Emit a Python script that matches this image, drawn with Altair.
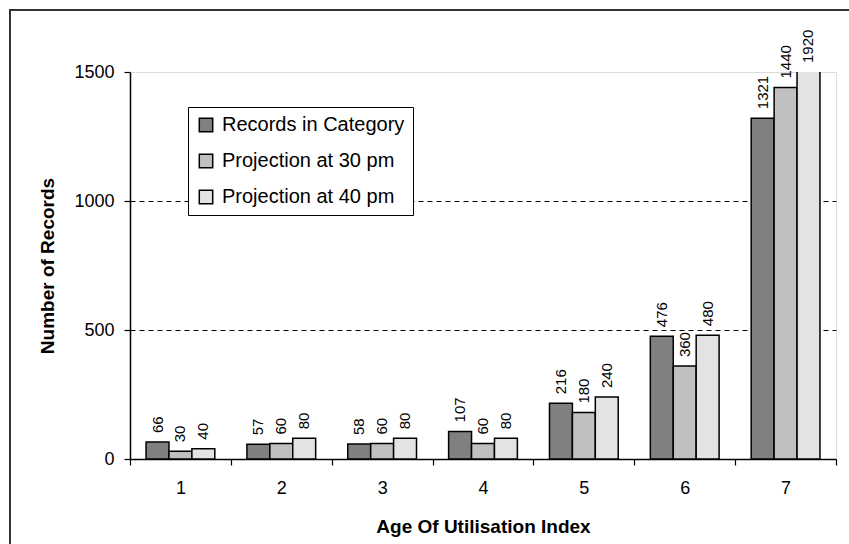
import altair as alt
import pandas as pd

categories = ["1", "2", "3", "4", "5", "6", "7"]
series_names = ["Records in Category", "Projection at 30 pm", "Projection at 40 pm"]
records = [66, 57, 58, 107, 216, 476, 1321]
proj30 = [30, 60, 60, 60, 180, 360, 1440]
proj40 = [40, 80, 80, 80, 240, 480, 1920]
series_colors = ["#808080", "#C0C0C0", "#E3E3E3"]
y_ticks = [0, 500, 1000, 1500]

rows = []
for name, vals in zip(series_names, [records, proj30, proj40]):
    for c, v in zip(categories, vals):
        rows.append({"cat": c, "series": name, "value": v})
df = pd.DataFrame(rows)

FONT = "Liberation Sans"
W, H = 706, 387

x_enc = alt.X("cat:N", sort=categories,
              scale=alt.Scale(paddingInner=0, paddingOuter=0),
              axis=alt.Axis(title="Age Of Utilisation Index", labelAngle=0,
                            tickBand="extent", tickSize=6, tickColor="#000",
                            tickWidth=1.2, domainColor="#000", domainWidth=1.5,
                            labelFont=FONT, labelFontSize=18, labelColor="#000",
                            labelPadding=14,
                            titleFont=FONT, titleFontSize=19, titleFontWeight="bold",
                            titleColor="#000", titleBaseline="alphabetic",
                            titleY=73, grid=False))
xoff_enc = alt.XOffset("series:N", sort=series_names,
                       scale=alt.Scale(domain=series_names, paddingInner=0, paddingOuter=0.7))

base = alt.Chart(df)

bars = base.mark_bar(stroke="#000", strokeWidth=1.5, clip=True).encode(
    x=x_enc,
    xOffset=xoff_enc,
    y=alt.Y("value:Q",
            scale=alt.Scale(domain=[0, 1500], nice=False, clamp=False),
            axis=alt.Axis(title="Number of Records", values=y_ticks, format="d",
                          grid=True, gridDash=[5, 4], gridColor="#000", gridWidth=1,
                          gridOpacity=alt.condition("datum.value == 0 || datum.value == 1500",
                                                    alt.value(0), alt.value(1)),
                          tickSize=6, tickColor="#000", tickWidth=1.2,
                          domainColor="#000", domainWidth=1.5,
                          labelFont=FONT, labelFontSize=18, labelColor="#000",
                          labelPadding=10,
                          titleFont=FONT, titleFontSize=19, titleFontWeight="bold",
                          titleColor="#000", titleAngle=270, titleBaseline="alphabetic",
                          titleAlign="center", titleX=-77, titleY=H / 2)),
    color=alt.Color("series:N", sort=series_names,
                    scale=alt.Scale(domain=series_names, range=series_colors),
                    legend=alt.Legend(title=None, orient="none", legendX=58, legendY=35,
                                      symbolType="square", symbolSize=180,
                                      symbolStrokeColor="#000", symbolStrokeWidth=1.5,
                                      labelFont=FONT, labelFontSize=20, labelColor="#000",
                                      labelOffset=6, rowPadding=16, padding=8,
                                      strokeColor="#000", fillColor="#fff",
                                      labelLimit=400)),
)

labels = base.transform_calculate(
    label_y="min(datum.value, 1500)"
).mark_text(angle=270, align="left", baseline="middle", dx=9,
            font=FONT, fontSize=15, color="#000").encode(
    x=alt.X("cat:N", sort=categories),
    xOffset=alt.XOffset("series:N", sort=series_names),
    y=alt.Y("label_y:Q"),
    text=alt.Text("value:Q"),
)

frame_df = pd.DataFrame({"k": [0]})
frame_left = alt.Chart(frame_df).mark_rule(color="#333", strokeWidth=2).encode(
    x=alt.value(-120), y=alt.value(-62), y2=alt.value(480))
frame_top = alt.Chart(frame_df).mark_rule(color="#333", strokeWidth=2).encode(
    x=alt.value(-121), x2=alt.value(730), y=alt.value(-62))

chart = alt.layer(bars, labels, frame_left, frame_top).properties(
    width=W, height=H,
    autosize=alt.AutoSizeParams(type="none"),
    padding={"left": 130, "top": 72, "right": 13, "bottom": 85},
).configure_view(
    stroke="#888", strokeWidth=1.5
).configure(background="#fff")

chart.save("out.html", embed_options={"renderer": "svg", "actions": False})
